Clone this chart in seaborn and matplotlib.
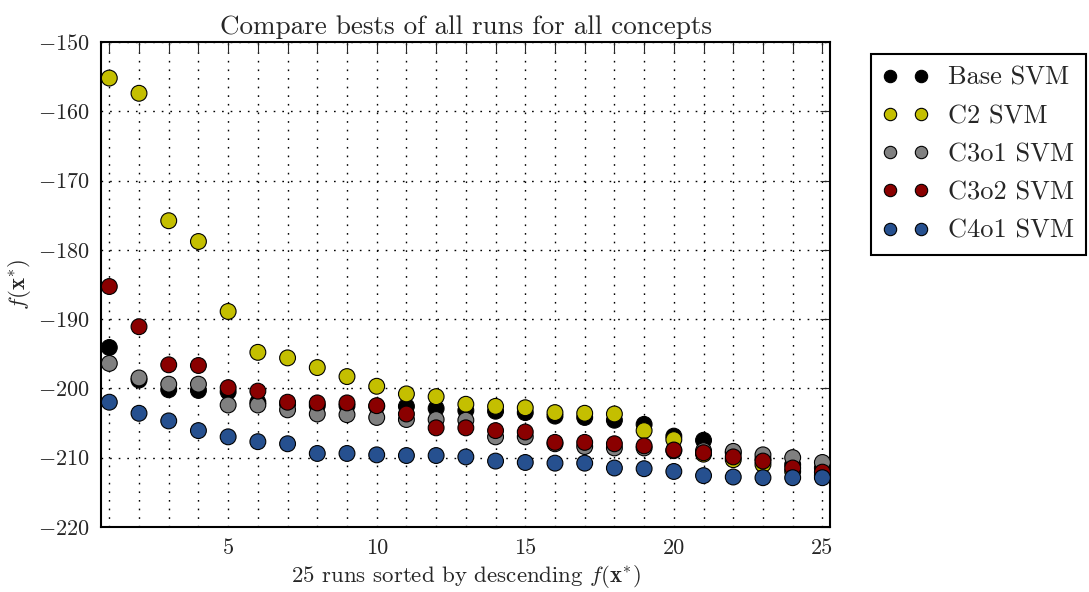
import numpy as np
import pandas as pd
import seaborn as sns
from matplotlib import pyplot as plt

runs = list(range(1, 26))

base_svm = [-194.1, -198.8, -200.2, -200.3, -200.5, -202.0, -202.3, -202.5, -202.5, -202.6,
            -202.6, -202.9, -203.2, -203.3, -203.5, -204.0, -204.2, -204.6, -205.2, -206.9,
            -207.5, -209.3, -210.2, -211.0, -211.5]
c2_svm = [-155.2, -157.4, -175.8, -178.8, -188.9, -194.8, -195.6, -197.0, -198.3, -199.7,
          -200.8, -201.2, -202.3, -202.6, -202.8, -203.5, -203.6, -203.7, -206.1, -207.4,
          -209.5, -210.3, -211.0, -212.0, -212.6]
c3o1_svm = [-196.4, -198.5, -199.4, -199.4, -202.4, -202.4, -203.1, -203.7, -203.8, -204.2,
            -204.5, -204.5, -204.6, -207.0, -207.0, -208.0, -208.4, -208.6, -208.6, -209.0,
            -209.0, -209.1, -209.6, -210.0, -210.7]
c3o2_svm = [-185.3, -191.1, -196.6, -196.7, -199.9, -200.4, -202.0, -202.1, -202.1, -202.5,
            -203.7, -205.7, -205.7, -206.1, -206.3, -207.8, -207.8, -208.0, -208.3, -208.9,
            -209.3, -209.9, -210.5, -211.5, -212.1]
c4o1_svm = [-202.0, -203.6, -204.7, -206.1, -207.0, -207.7, -208.0, -209.4, -209.4, -209.6,
            -209.7, -209.7, -209.9, -210.5, -210.7, -210.8, -210.8, -211.5, -211.6, -212.0,
            -212.6, -212.8, -212.9, -212.9, -212.9]

concepts = ['Base SVM', 'C2 SVM', 'C3o1 SVM', 'C3o2 SVM', 'C4o1 SVM']
colors = ['#000000', '#c4bf00', '#808080', '#8a0000', '#26508f']

df = pd.concat([
    pd.DataFrame({'run': runs, 'f': vals, 'concept': name})
    for name, vals in zip(concepts, [base_svm, c2_svm, c3o1_svm, c3o2_svm, c4o1_svm])
])

sns.set_style('white')
plt.rcParams['font.family'] = ['cmr10', 'DejaVu Serif']
plt.rcParams['mathtext.fontset'] = 'cm'
plt.rcParams['axes.formatter.use_mathtext'] = True

fig = plt.figure(figsize=(10.89, 5.92), dpi=100)
ax = fig.add_axes([0.093, 0.110, 0.669, 0.819])

sns.scatterplot(data=df, x='run', y='f', hue='concept', hue_order=concepts,
                palette=colors, s=130, edgecolor='black', linewidth=0.8, ax=ax, zorder=3)

ax.set_xlim(0.73, 25.25)
ax.set_ylim(-220, -150)
ax.set_xticks(runs)
ax.set_xticklabels([str(r) if r % 5 == 0 else '' for r in runs])
ax.set_yticks(np.arange(-220, -149, 10))
ax.tick_params(direction='in', top=True, right=True, length=7, width=0.8, labelsize=16, pad=8)
ax.grid(True, color='black', linestyle=(0, (1.2, 5)), linewidth=1.0)
for sp in ax.spines.values():
    sp.set_linewidth(1.5)
    sp.set_color('black')

ax.set_title('Compare bests of all runs for all concepts', fontsize=19.5, pad=6)
ax.set_xlabel(r'25 runs sorted by descending $f(\mathbf{x}^{*})$', fontsize=16.5, labelpad=4)
ax.set_ylabel(r'$f(\mathbf{x}^{*})$', fontsize=16.5, labelpad=4)

handles, labels = ax.get_legend_handles_labels()
ax.legend_.remove() if ax.legend_ else None
leg = ax.legend(handles, labels, loc='upper left', bbox_to_anchor=(1.056, 0.975),
                numpoints=2, scatterpoints=2, markerscale=0.78, fontsize=19, fancybox=False,
                framealpha=1, edgecolor='black', borderpad=0.45, handletextpad=0.75,
                labelspacing=0.55, handlelength=1.75, borderaxespad=0)
leg.get_frame().set_linewidth(1.5)

fig.savefig('out.png', dpi=100)
